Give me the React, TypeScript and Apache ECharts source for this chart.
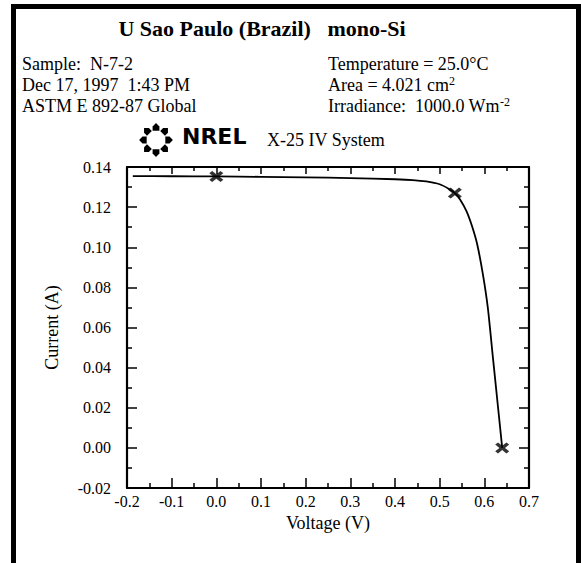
import React, { useEffect, useRef } from "react";
import * as echarts from "echarts";

// I-V curve (Voltage in V, Current in A)
const voltage = [-0.187, -0.1, 0.0, 0.1, 0.2, 0.3, 0.4, 0.44, 0.47, 0.5, 0.52, 0.534, 0.546, 0.56, 0.572, 0.584, 0.597, 0.608, 0.619, 0.631, 0.64];
const current = [0.1355, 0.1354, 0.1353, 0.1351, 0.1348, 0.1345, 0.1339, 0.1335, 0.1328, 0.1314, 0.1292, 0.127, 0.1237, 0.118, 0.1108, 0.1015, 0.0862, 0.0695, 0.0455, 0.0195, 0.0];

// Marked points: Isc, Pmax, Voc
const keyVoltage = [0.0, 0.534, 0.64];
const keyCurrent = [0.1353, 0.127, 0.0];

const titleText = "U Sao Paulo (Brazil)   mono-Si";
const leftInfo = ["Sample:  N-7-2", "Dec 17, 1997  1:43 PM", "ASTM E 892-87 Global"];
const rightInfo = [
  "Temperature = 25.0°C",
  "Area = 4.021 cm{sup|2}",
  "Irradiance:  1000.0 Wm{sup|-2}",
];

const SERIF = "'Liberation Serif', 'Times New Roman', serif";
const X_SYMBOL = "path://M0,2 L2,0 L5,3 L8,0 L10,2 L7,5 L10,8 L8,10 L5,7 L2,10 L0,8 L3,5 Z";

function logoElements() {
  const cx = 156;
  const cy = 140;
  const r = 12.5;
  const els: any[] = [];
  const local = [
    [-3.2, -3.4],
    [1, -3.4],
    [4.4, 0],
    [1, 3.4],
    [-3.2, 3.4],
  ];
  for (let i = 0; i < 8; i++) {
    const a = (i * Math.PI) / 4;
    const ox = cx + r * Math.cos(a);
    const oy = cy + r * Math.sin(a);
    const pts = local.map(([px, py]) => [
      ox + px * Math.cos(a) - py * Math.sin(a),
      oy + px * Math.sin(a) + py * Math.cos(a),
    ]);
    els.push({ type: "polygon", shape: { points: pts }, style: { fill: "#000" } });
  }
  return els;
}

export default function App() {
  const ref = useRef<HTMLDivElement>(null);
  useEffect(() => {
    if (!ref.current) return;
    const chart = echarts.init(ref.current, undefined, { renderer: "svg" });
    const axisCommon = {
      type: "value" as const,
      splitLine: { show: false },
      axisLine: { show: true, onZero: false, lineStyle: { color: "#000", width: 2.2 } },
    };
    const textEls: any[] = [
      {
        type: "text",
        x: 262,
        y: 28,
        style: {
          text: titleText,
          fontFamily: SERIF,
          fontSize: 22,
          fontWeight: "bold",
          fill: "#000",
          align: "center",
          verticalAlign: "middle",
        },
      },
      ...leftInfo.map((t, i) => ({
        type: "text",
        x: 22,
        y: 64 + i * 21,
        style: { text: t, fontFamily: SERIF, fontSize: 18, fill: "#000", align: "left", verticalAlign: "middle" },
      })),
      ...rightInfo.map((t, i) => ({
        type: "text",
        x: 328,
        y: 64 + i * 21,
        style: {
          text: t,
          fontFamily: SERIF,
          fontSize: 18,
          fill: "#000",
          align: "left",
          verticalAlign: "middle",
          rich: {
            sup: { fontFamily: SERIF, fontSize: 12, padding: [0, 0, 9, 0], fill: "#000" },
          },
        },
      })),
      {
        type: "text",
        x: 182,
        y: 136,
        style: {
          text: "NREL",
          fontFamily: "'DejaVu Sans', sans-serif",
          fontSize: 22,
          fontWeight: 900,
          fill: "#000",
          align: "left",
          verticalAlign: "middle",
        },
      },
      {
        type: "text",
        x: 267,
        y: 140,
        style: { text: "X-25 IV System", fontFamily: SERIF, fontSize: 18, fill: "#000", align: "left", verticalAlign: "middle" },
      },
    ];
    chart.setOption({
      animation: false,
      backgroundColor: "#fff",
      grid: { left: 127, right: 52, top: 167, bottom: 75 },
      xAxis: [
        {
          ...axisCommon,
          position: "bottom",
          min: -0.2,
          max: 0.7,
          interval: 0.1,
          axisTick: { show: true, inside: true, length: 10, lineStyle: { color: "#000", width: 1.5 } },
          minorTick: { show: true, splitNumber: 2, length: 5, lineStyle: { color: "#000", width: 1.5 } },
          minorSplitLine: { show: false },
          axisLabel: {
            color: "#000",
            fontFamily: SERIF,
            fontSize: 16,
            margin: 5,
            formatter: (v: number) => v.toFixed(1),
          },
          name: "Voltage (V)",
          nameLocation: "middle",
          nameGap: 21,
          nameTextStyle: { color: "#000", fontFamily: SERIF, fontSize: 18 },
        },
        {
          ...axisCommon,
          position: "top",
          min: -0.2,
          max: 0.7,
          interval: 0.1,
          axisTick: { show: true, inside: true, length: 7, lineStyle: { color: "#000", width: 1.5 } },
          minorTick: { show: true, splitNumber: 2, length: 4, lineStyle: { color: "#000", width: 1.5 } },
          axisLabel: { show: false },
        },
      ],
      yAxis: [
        {
          ...axisCommon,
          position: "left",
          min: -0.02,
          max: 0.14,
          interval: 0.02,
          axisTick: { show: true, inside: true, length: 10, lineStyle: { color: "#000", width: 1.5 } },
          minorTick: { show: true, splitNumber: 2, length: 5, lineStyle: { color: "#000", width: 1.5 } },
          axisLabel: {
            color: "#000",
            fontFamily: SERIF,
            fontSize: 16,
            margin: 16,
            formatter: (v: number) => v.toFixed(2),
          },
          name: "Current (A)",
          nameLocation: "middle",
          nameRotate: 90,
          nameGap: 66,
          nameTextStyle: { color: "#000", fontFamily: SERIF, fontSize: 18 },
        },
        {
          ...axisCommon,
          position: "right",
          min: -0.02,
          max: 0.14,
          interval: 0.02,
          axisTick: { show: true, inside: true, length: 10, lineStyle: { color: "#000", width: 1.5 } },
          minorTick: { show: true, splitNumber: 2, length: 5, lineStyle: { color: "#000", width: 1.5 } },
          axisLabel: { show: false },
        },
      ],
      series: [
        {
          type: "line",
          xAxisIndex: 0,
          yAxisIndex: 0,
          data: voltage.map((v, i) => [v, current[i]]),
          showSymbol: false,
          smooth: 0.2,
          lineStyle: { color: "#000", width: 1.8 },
          silent: true,
        },
        {
          type: "scatter",
          xAxisIndex: 0,
          yAxisIndex: 0,
          data: keyVoltage.map((v, i) => [v, keyCurrent[i]]),
          symbol: X_SYMBOL,
          symbolSize: [14, 11],
          itemStyle: { color: "#000" },
          silent: true,
          z: 5,
        },
      ],
      graphic: [
        {
          type: "rect",
          shape: { x: 13.5, y: 6.5, width: 565, height: 600 },
          style: { fill: "none", stroke: "#000", lineWidth: 5 },
          silent: true,
          z: 100,
        },
        ...logoElements(),
        ...textEls,
      ],
    });
    return () => chart.dispose();
  }, []);
  return <div ref={ref} style={{ position: "absolute", left: 0, top: 0, width: 581, height: 563 }} />;
}
